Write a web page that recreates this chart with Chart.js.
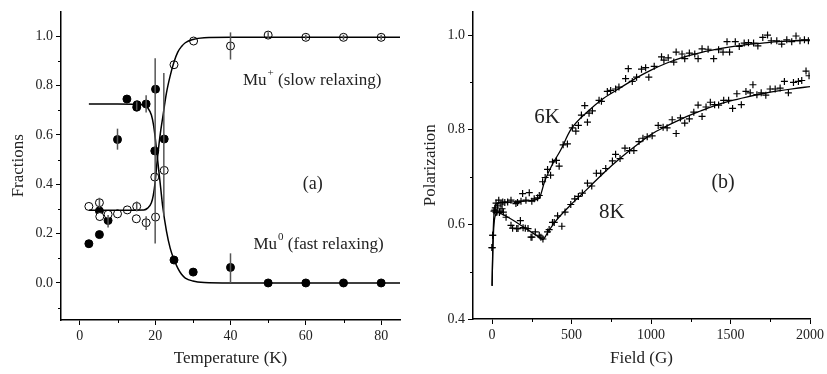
<!DOCTYPE html>
<html>
<head>
<meta charset="utf-8">
<script src="https://cdn.jsdelivr.net/npm/chart.js@4/dist/chart.umd.min.js"></script>
<style>
  html, body { margin: 0; padding: 0; background: #fff; }
  #wrap { position: relative; width: 827px; height: 374px; }
  .panel { position: absolute; top: 0; height: 374px; }
  #pa { left: 0; width: 420px; }
  #pb { left: 420px; width: 407px; }
</style>
</head>
<body>
<div id="wrap">
  <div class="panel" id="pa"><canvas id="chartA"></canvas></div>
  <div class="panel" id="pb"><canvas id="chartB"></canvas></div>
</div>
<script>
const SERIF = '"Liberation Serif", "DejaVu Serif", serif';

// ---- panel (a): fractions vs temperature ----
const tempTicks = [0, 20, 40, 60, 80];
const tempMinor = [10, 30, 50, 70];
const fracTicks = [0, 0.2, 0.4, 0.6, 0.8, 1.0];
const fracMinor = [-0.1, 0.1, 0.3, 0.5, 0.7, 0.9];

// Mu+ (open circles)
const muPlusT = [2.4, 5.2, 5.3, 7.5, 10, 12.6, 15.1, 15, 17.6, 19.9, 20.1, 22.4, 25, 30.2, 40, 50, 60, 70, 80];
const muPlusF = [0.31, 0.325, 0.269, 0.278, 0.28, 0.296, 0.31, 0.26, 0.244, 0.429, 0.267, 0.456, 0.884, 0.98, 0.96, 1.004, 0.995, 0.995, 0.995];

// Mu0 (filled circles)
const muZeroT = [2.4, 5.2, 5.2, 7.5, 10, 12.5, 15.1, 15.2, 17.6, 19.9, 20.1, 22.4, 25, 30.1, 40, 50, 60, 70, 80];
const muZeroF = [0.159, 0.196, 0.292, 0.253, 0.581, 0.745, 0.712, 0.722, 0.725, 0.535, 0.785, 0.583, 0.093, 0.044, 0.063, 0, 0, 0, 0];

// error bars (temperature, low, high)
const errT  = [5.2, 15.1, 17.6, 7.5, 10, 15.1, 17.6, 20.0, 22.3, 40, 40, 50, 60, 70, 80];
const errLo = [0.305, 0.29, 0.215, 0.225, 0.54, 0.70, 0.69, 0.16, 0.27, 0.905, 0.0, 0.99, 0.985, 0.985, 0.985];
const errHi = [0.345, 0.33, 0.27, 0.275, 0.625, 0.735, 0.76, 0.91, 0.85, 1.015, 0.12, 1.016, 1.005, 1.005, 1.005];

// fitted curves
const fitT      = [2.4, 10, 17, 18, 19, 19.5, 20, 20.5, 21, 21.5, 22, 23, 24, 25, 26, 27, 28, 30, 33, 40, 85];
const fitPlus   = [0.295, 0.295, 0.296, 0.303, 0.325, 0.355, 0.41, 0.49, 0.56, 0.62, 0.67, 0.77, 0.84, 0.895, 0.935, 0.958, 0.973, 0.986, 0.993, 0.995, 0.995];
const fitZero   = [0.725, 0.725, 0.722, 0.71, 0.68, 0.645, 0.59, 0.52, 0.45, 0.38, 0.31, 0.21, 0.14, 0.095, 0.06, 0.035, 0.02, 0.008, 0.002, 0, 0];

// ---- panel (b): polarization vs field ----
const fieldTicks = [0, 500, 1000, 1500, 2000];
const fieldMinor = [250, 750, 1250, 1750];
const polTicks = [0.4, 0.6, 0.8, 1.0];
const polMinor = [0.5, 0.7, 0.9];

const field6K = [0, 4, 12, 20, 25, 35, 42, 56, 67, 80, 98, 119, 150, 160, 182, 192, 213, 234, 250, 265, 286, 297, 318, 334, 349, 368, 380, 405, 422, 447, 474, 505, 527, 543, 562, 583, 600, 610, 631, 673, 688, 725, 746, 777, 798, 840, 857, 882, 909, 940, 966, 986, 1020, 1066, 1081, 1108, 1143, 1158, 1195, 1212, 1241, 1275, 1296, 1321, 1359, 1394, 1425, 1453, 1478, 1494, 1530, 1555, 1586, 1613, 1645, 1672, 1703, 1733, 1756, 1791, 1822, 1854, 1885, 1912, 1937, 1965, 1990];
const pol6K = [0.551, 0.577, 0.628, 0.635, 0.645, 0.639, 0.651, 0.643, 0.647, 0.646, 0.647, 0.651, 0.644, 0.646, 0.649, 0.665, 0.651, 0.667, 0.649, 0.654, 0.656, 0.661, 0.690, 0.699, 0.716, 0.704, 0.732, 0.735, 0.723, 0.768, 0.770, 0.804, 0.797, 0.809, 0.831, 0.851, 0.816, 0.835, 0.840, 0.862, 0.860, 0.881, 0.883, 0.886, 0.890, 0.908, 0.929, 0.902, 0.911, 0.928, 0.931, 0.911, 0.934, 0.954, 0.947, 0.952, 0.943, 0.964, 0.960, 0.950, 0.962, 0.960, 0.950, 0.971, 0.970, 0.950, 0.969, 0.964, 0.986, 0.964, 0.986, 0.976, 0.983, 0.984, 0.983, 0.977, 0.995, 1.000, 0.988, 0.988, 0.981, 0.990, 0.986, 0.998, 0.988, 0.990, 0.988];

const field8K = [0, 4, 17, 25, 31, 46, 50, 63, 71, 88, 119, 129, 155, 163, 178, 195, 209, 226, 245, 251, 272, 297, 307, 320, 349, 359, 380, 391, 412, 439, 459, 495, 520, 543, 568, 600, 627, 656, 683, 715, 757, 777, 805, 836, 865, 892, 924, 949, 976, 1007, 1045, 1076, 1101, 1133, 1158, 1185, 1212, 1241, 1269, 1296, 1321, 1346, 1373, 1400, 1425, 1457, 1488, 1513, 1540, 1568, 1597, 1624, 1641, 1666, 1693, 1722, 1749, 1781, 1812, 1839, 1864, 1896, 1927, 1948, 1975, 1994];
const pol8K = [0.551, 0.577, 0.630, 0.625, 0.626, 0.625, 0.628, 0.633, 0.626, 0.615, 0.598, 0.592, 0.591, 0.591, 0.608, 0.593, 0.592, 0.591, 0.573, 0.573, 0.584, 0.577, 0.573, 0.569, 0.584, 0.589, 0.604, 0.604, 0.618, 0.596, 0.626, 0.642, 0.654, 0.659, 0.666, 0.687, 0.681, 0.708, 0.708, 0.718, 0.734, 0.748, 0.739, 0.761, 0.756, 0.756, 0.775, 0.782, 0.785, 0.787, 0.809, 0.805, 0.804, 0.821, 0.792, 0.825, 0.814, 0.823, 0.837, 0.852, 0.828, 0.848, 0.858, 0.853, 0.852, 0.862, 0.862, 0.845, 0.876, 0.853, 0.881, 0.878, 0.895, 0.874, 0.878, 0.873, 0.886, 0.886, 0.888, 0.902, 0.878, 0.900, 0.902, 0.904, 0.924, 0.914];

const fit6KF = [0, 5, 10, 15, 20, 30, 50, 100, 200, 290, 300, 330, 380, 430, 495, 600, 700, 800, 900, 1000, 1100, 1200, 1300, 1400, 1500, 1600, 1700, 1800, 1900, 2000];
const fit6KP = [0.47, 0.56, 0.61, 0.632, 0.64, 0.644, 0.646, 0.647, 0.649, 0.654, 0.657, 0.69, 0.727, 0.756, 0.80, 0.838, 0.866, 0.887, 0.908, 0.926, 0.941, 0.953, 0.962, 0.969, 0.975, 0.98, 0.983, 0.986, 0.988, 0.99];

const fit8KF = [0, 5, 10, 15, 20, 30, 40, 60, 100, 150, 200, 250, 300, 320, 350, 400, 500, 600, 700, 800, 900, 1000, 1100, 1200, 1300, 1400, 1500, 1600, 1700, 1800, 1900, 2000];
const fit8KP = [0.47, 0.55, 0.59, 0.61, 0.618, 0.624, 0.625, 0.622, 0.615, 0.605, 0.594, 0.583, 0.572, 0.568, 0.583, 0.607, 0.643, 0.675, 0.708, 0.738, 0.765, 0.79, 0.808, 0.824, 0.838, 0.851, 0.861, 0.869, 0.876, 0.882, 0.887, 0.891];

const pts = (xs, ys) => xs.map((v, i) => ({ x: v, y: ys[i] }));

// ---- plugins ----
const minorTicks = {
  id: 'minorTicks',
  afterDraw(chart, args, opts) {
    const { ctx, scales: { x, y } } = chart;
    ctx.save();
    ctx.strokeStyle = '#000';
    ctx.lineWidth = 1;
    ctx.beginPath();
    (opts.x || []).forEach(v => {
      const px = Math.round(x.getPixelForValue(v)) + 0.5;
      ctx.moveTo(px, x.top);
      ctx.lineTo(px, x.top + 3);
    });
    (opts.y || []).forEach(v => {
      const py = Math.round(y.getPixelForValue(v)) + 0.5;
      ctx.moveTo(y.right, py);
      ctx.lineTo(y.right - 3, py);
    });
    ctx.stroke();
    ctx.restore();
  }
};

const errorBars = {
  id: 'errorBars',
  afterDatasetsDraw(chart, args, opts) {
    if (!opts.t) return;
    const { ctx, scales: { x, y } } = chart;
    ctx.save();
    ctx.strokeStyle = '#555';
    ctx.lineWidth = 1.5;
    opts.t.forEach((t, i) => {
      const px = x.getPixelForValue(t);
      ctx.beginPath();
      ctx.moveTo(px, y.getPixelForValue(opts.lo[i]));
      ctx.lineTo(px, y.getPixelForValue(opts.hi[i]));
      ctx.stroke();
    });
    ctx.restore();
  }
};

const textLabels = {
  id: 'textLabels',
  afterDraw(chart, args, opts) {
    const { ctx, scales: { x, y } } = chart;
    ctx.save();
    ctx.fillStyle = '#222';
    ctx.textBaseline = 'middle';
    ctx.textAlign = 'left';
    (opts.items || []).forEach(it => {
      let px = x.getPixelForValue(it.x);
      const py = y.getPixelForValue(it.y);
      const base = it.size + 'px ' + SERIF;
      ctx.font = base;
      ctx.fillText(it.pre, px, py);
      px += ctx.measureText(it.pre).width;
      if (it.sup) {
        ctx.font = Math.round(it.size * 0.62) + 'px ' + SERIF;
        ctx.fillText(it.sup, px + 1, py - it.size * 0.42);
        px += ctx.measureText(it.sup).width + 1;
        ctx.font = base;
      }
      if (it.post) ctx.fillText(it.post, px, py);
    });
    ctx.restore();
  }
};

function makeScale(o) {
  return {
    type: 'linear',
    min: o.min,
    max: o.max,
    afterBuildTicks: s => { s.ticks = o.ticks.map(v => ({ value: v })); },
    afterFit: s => {
      if (o.width != null) s.width = o.width;
      if (o.height != null) s.height = o.height;
    },
    ticks: {
      callback: o.fmt,
      font: { family: SERIF, size: 14 },
      color: '#222',
      padding: 3,
      maxRotation: 0,
      autoSkip: false
    },
    grid: { drawOnChartArea: false, drawTicks: true, tickLength: 5, tickWidth: 1, tickColor: '#000' },
    border: { display: true, color: '#000', width: 1.5 },
    title: {
      display: true,
      text: o.title,
      font: { family: SERIF, size: 17 },
      color: '#222',
      padding: o.titlePad
    }
  };
}

Chart.defaults.font.family = SERIF;

// ---- chart (a) ----
new Chart(document.getElementById('chartA'), {
  type: 'scatter',
  data: {
    datasets: [
      { data: pts(fitT, fitPlus), showLine: true, pointRadius: 0, borderColor: '#000', borderWidth: 1.5, cubicInterpolationMode: 'monotone', order: 0 },
      { data: pts(fitT, fitZero), showLine: true, pointRadius: 0, borderColor: '#000', borderWidth: 1.5, cubicInterpolationMode: 'monotone', order: 0 },
      { data: pts(muPlusT, muPlusF), pointStyle: 'circle', pointRadius: 4, pointBackgroundColor: '#fff', pointBorderColor: '#000', pointBorderWidth: 1, order: 1 },
      { data: pts(muZeroT, muZeroF), pointStyle: 'circle', pointRadius: 4, pointBackgroundColor: '#000', pointBorderColor: '#000', pointBorderWidth: 1, order: 1 }
    ]
  },
  options: {
    responsive: true,
    maintainAspectRatio: false,
    animation: false,
    events: [],
    layout: { padding: { top: 5, right: 20, left: 0, bottom: 0 } },
    scales: {
      x: makeScale({ min: -5, max: 85, ticks: tempTicks, fmt: v => String(v), title: 'Temperature (K)', titlePad: { top: 0, bottom: 5 }, height: 54 }),
      y: makeScale({ min: -0.15, max: 1.1, ticks: fracTicks, fmt: v => v.toFixed(1), title: 'Fractions', titlePad: { top: 8, bottom: 0 }, width: 61 })
    },
    plugins: {
      legend: { display: false },
      tooltip: { enabled: false },
      minorTicks: { x: tempMinor, y: fracMinor },
      errorBars: { t: errT, lo: errLo, hi: errHi },
      textLabels: {
        items: [
          { x: 43.3, y: 0.822, pre: 'Mu', sup: '+', post: ' (slow relaxing)', size: 17 },
          { x: 46.1, y: 0.155, pre: 'Mu', sup: '0', post: ' (fast relaxing)', size: 17 },
          { x: 59.2, y: 0.40, pre: '(a)', size: 18 }
        ]
      }
    }
  },
  plugins: [minorTicks, errorBars, textLabels]
});

// ---- chart (b) ----
new Chart(document.getElementById('chartB'), {
  type: 'scatter',
  data: {
    datasets: [
      { data: pts(fit6KF, fit6KP), showLine: true, pointRadius: 0, borderColor: '#000', borderWidth: 1.3, cubicInterpolationMode: 'monotone', order: 0 },
      { data: pts(fit8KF, fit8KP), showLine: true, pointRadius: 0, borderColor: '#000', borderWidth: 1.3, cubicInterpolationMode: 'monotone', order: 0 },
      { data: pts(field6K, pol6K), pointStyle: 'cross', pointRadius: 3.5, pointBorderColor: '#000', pointBorderWidth: 1.2, order: 1 },
      { data: pts(field8K, pol8K), pointStyle: 'cross', pointRadius: 3.5, pointBorderColor: '#000', pointBorderWidth: 1.2, order: 1 }
    ]
  },
  options: {
    responsive: true,
    maintainAspectRatio: false,
    animation: false,
    events: [],
    layout: { padding: { top: 5, right: 15, left: 0, bottom: 0 } },
    scales: {
      x: makeScale({ min: -120, max: 2000, ticks: fieldTicks, fmt: v => String(v), title: 'Field (G)', titlePad: { top: 0, bottom: 5 }, height: 55 }),
      y: makeScale({ min: 0.4, max: 1.05, ticks: polTicks, fmt: v => v.toFixed(1), title: 'Polarization', titlePad: { top: 0, bottom: 0 }, width: 53 })
    },
    plugins: {
      legend: { display: false },
      tooltip: { enabled: false },
      minorTicks: { x: fieldMinor, y: polMinor },
      textLabels: {
        items: [
          { x: 265, y: 0.825, pre: '6K', size: 21 },
          { x: 673, y: 0.625, pre: '8K', size: 21 },
          { x: 1380, y: 0.687, pre: '(b)', size: 20 }
        ]
      }
    }
  },
  plugins: [minorTicks, textLabels]
});
</script>
</body>
</html>
